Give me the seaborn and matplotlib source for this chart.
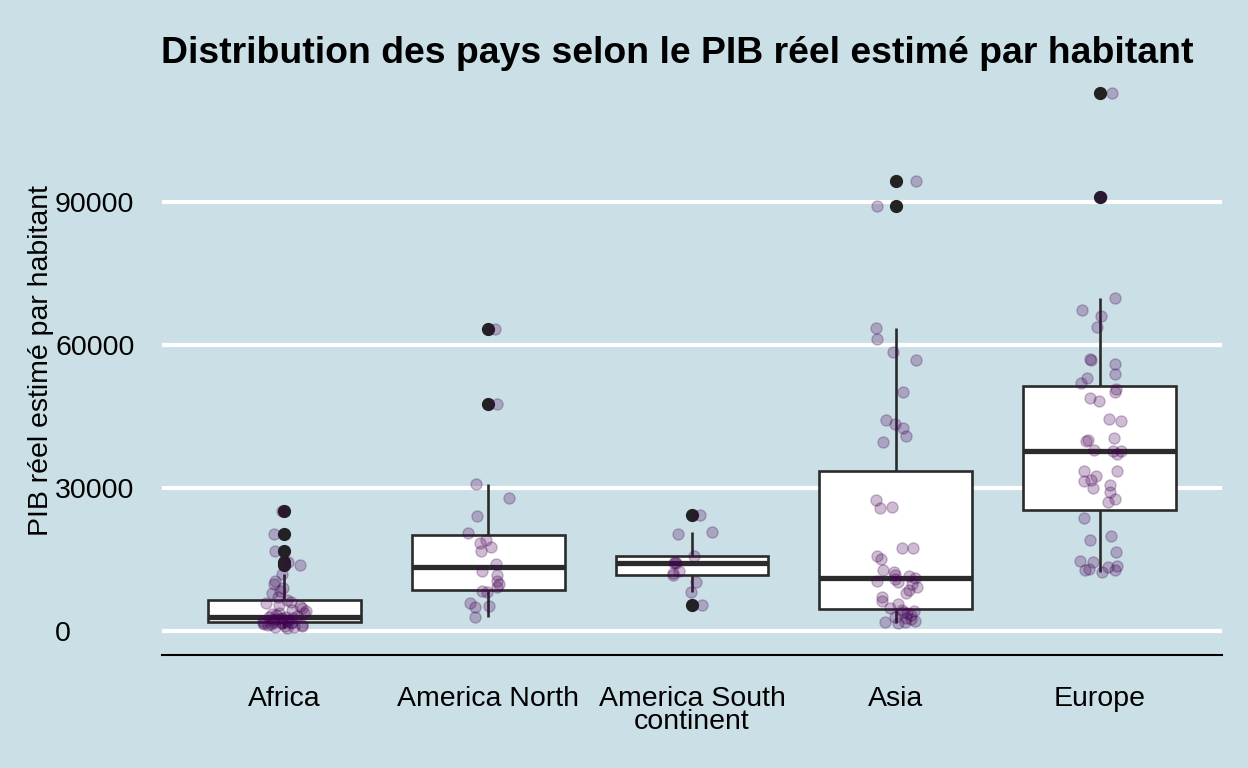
import numpy as np
import pandas as pd
import matplotlib
matplotlib.use("Agg")
import matplotlib.pyplot as plt
import seaborn as sns

# PIB réel estimé par habitant (one value per country)
africa = [600, 800, 900, 1000, 1100, 1200, 1300, 1400, 1500, 1600, 1650, 1700,
          1800, 1900, 2000, 2100, 2200, 2300, 2400, 2500, 2600, 2700, 2800, 2900,
          3000, 3100, 3300, 3500, 3700, 3900, 4200, 4500, 4800, 5200, 5500, 5900,
          6200, 6600, 7200, 7900, 8500, 9100, 9800, 10500, 11900,
          13900, 14600, 16900, 20400, 25300]
america_north = [3000, 5100, 5300, 5800, 8200, 8500, 9200, 9900, 10500, 11800,
                 12600, 14100, 16800, 17700, 18500, 19200, 20600, 24200, 28000,
                 30800, 47600, 63500]
america_south = [5400, 8300, 10300, 11700, 12200, 12700, 14200, 14300, 14600,
                 15800, 20400, 20700, 24400]
asia = [1700, 1900, 2000, 2200, 2500, 2800, 3000, 3400, 3700, 4000, 4300,
        4400, 4800, 5600, 6400, 7200, 8000, 8600, 9200, 9800, 10200, 10600, 10900,
        11200, 11500, 11800, 12300, 12800, 15100, 15800, 17400, 17500, 25900,
        26000, 27600, 39600, 41000, 42700, 43500, 44400, 50100, 56800, 58500,
        61300, 63600, 89200, 94500]
europe = [12400, 12800, 12900, 13000, 13400, 13700, 14500, 14800, 16500, 19200,
          19900, 23700, 27100, 27800, 29300, 30000, 30700, 31500, 31800, 32500,
          33500, 33700, 37200, 37700, 37900, 38100, 39800, 40100, 40500, 44100,
          44500, 48300, 49000, 50100, 50800, 52100, 53100, 53900, 56000, 56800,
          57100, 63800, 66200, 67500, 70000, 91200, 113000]

continents = ["Africa", "America North", "America South\ncontinent", "Asia", "Europe"]
values = [africa, america_north, america_south, asia, europe]

df = pd.DataFrame({
    "continent": np.repeat(continents, [len(v) for v in values]),
    "pib": np.concatenate(values),
})

bg = "#cbdfe6"
sns.set_theme(style="white")
plt.rcParams["font.family"] = ["Liberation Sans", "DejaVu Sans"]

fig = plt.figure(figsize=(12.48, 7.68), dpi=100, facecolor=bg)
ax = fig.add_axes([162 / 1248, 1 - 655 / 768, 1060 / 1248, (655 - 66) / 768])
ax.set_facecolor(bg)

sns.boxplot(data=df, x="continent", y="pib", order=continents, ax=ax,
            width=0.75, color="white", linecolor="#2b2b2b", linewidth=1.9,
            showcaps=False,
            medianprops=dict(linewidth=3.8, color="#2b2b2b"),
            flierprops=dict(marker="o", markersize=8.5, markerfacecolor="#222222",
                            markeredgecolor="#222222"))

np.random.seed(3)
sns.stripplot(data=df, x="continent", y="pib", order=continents, ax=ax,
              color="#440154", alpha=0.26, size=8, jitter=0.11,
              linewidth=1, edgecolor="#440154")

# ggplot-like expansion
lo, hi = df["pib"].min(), df["pib"].max()
pad = (hi - lo) * 0.05
ax.set_ylim(lo - pad, hi + pad)
ax.set_xlim(-0.6, len(continents) - 0.4)

ax.set_yticks([0, 30000, 60000, 90000])
ax.set_yticklabels(["0", "30000", "60000", "90000"])
ax.yaxis.grid(True, color="white", linewidth=3.0)
ax.set_axisbelow(True)

for s in ["top", "right", "left"]:
    ax.spines[s].set_visible(False)
ax.spines["bottom"].set_color("black")
ax.spines["bottom"].set_linewidth(1.5)

ax.tick_params(axis="y", length=0, pad=77, labelsize=20.5, labelcolor="black")
for lab in ax.get_yticklabels():
    lab.set_horizontalalignment("left")
ax.tick_params(axis="x", direction="in", length=9, width=1.5, color="black",
               pad=22, labelsize=20.5, labelcolor="black")
for lab in ax.get_xticklabels():
    lab.set_linespacing(0.85)

ax.set_xlabel("")
ax.set_ylabel("PIB réel estimé par habitant", fontsize=20.5, color="black")
ax.yaxis.set_label_coords(-0.102, 0.5)

fig.text(677 / 1248, 1 - 63 / 768,
         "Distribution des pays selon le PIB réel estimé par habitant",
         ha="center", va="baseline", fontsize=26.9, fontweight="bold", color="black")

fig.savefig("out.png", dpi=100, facecolor=bg)
